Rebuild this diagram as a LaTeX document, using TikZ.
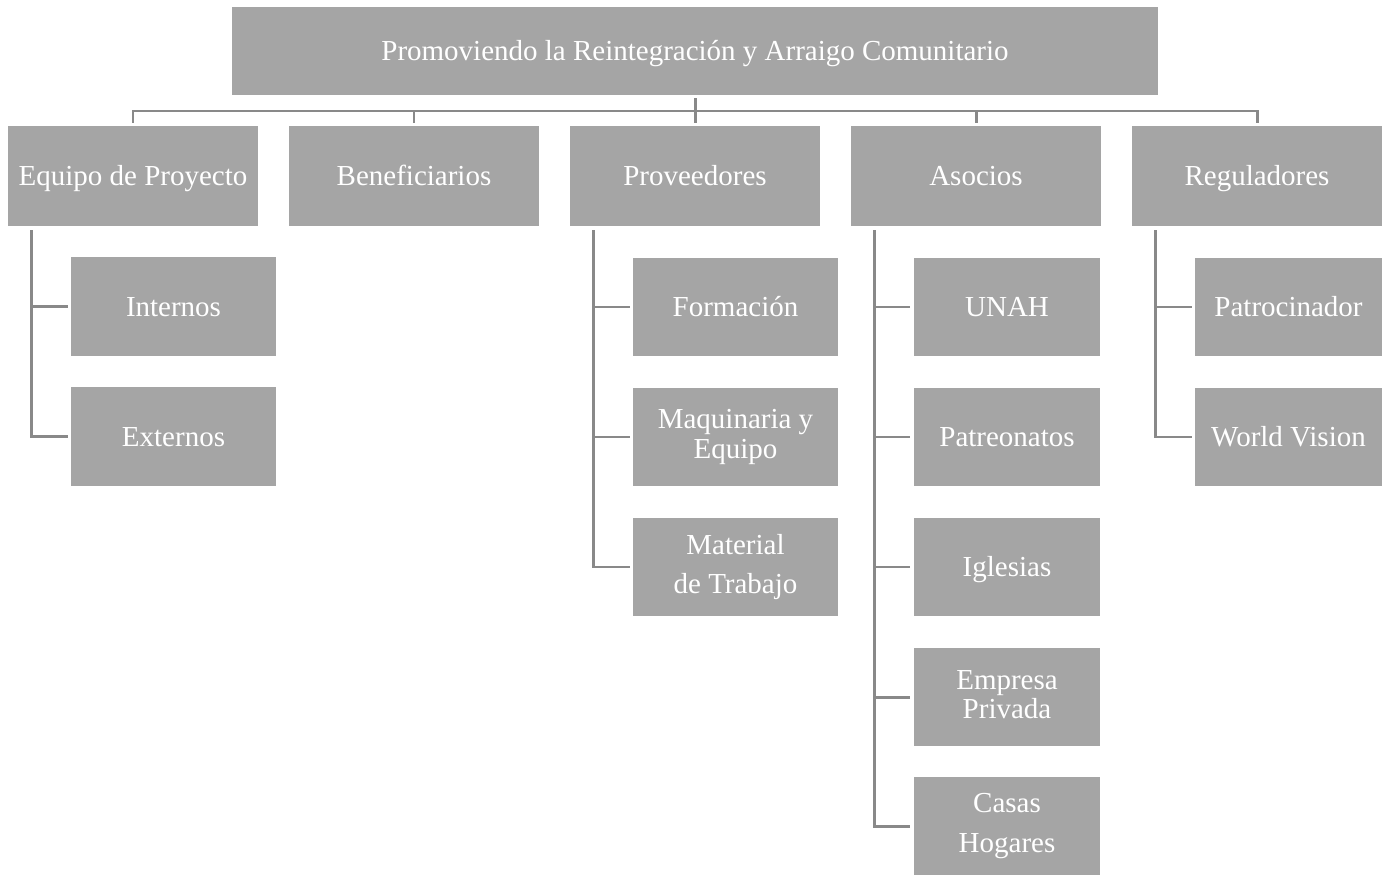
\documentclass[tikz,border=0pt]{standalone}
\usepackage{fontspec}
\setmainfont{Liberation Serif}
\usepackage{tikz}
\definecolor{boxgray}{RGB}{165, 165, 165}
\definecolor{linegray}{RGB}{137, 137, 137}
\newcommand{\cardstrut}{\rule[-2.83pt]{0pt}{17pt}}
\tikzset{
    card/.style={fill=boxgray, text=white, align=center, inner sep=0pt,
                 font=\fontsize{16.5pt}{17pt}\selectfont,
                 execute at begin node=\cardstrut, execute at end node=\cardstrut},
    head/.style={card, minimum width=18.52cm, minimum height=1.76cm},
    group/.style={card, minimum width=5.00cm,  minimum height=2.00cm},
    item/.style={card,  minimum width=4.10cm,  minimum height=1.98cm},
    narrow/.style={card, minimum width=3.74cm, minimum height=1.98cm},
    link/.style={draw=linegray, line width=1.7pt}
}
\begin{document}
\begin{tikzpicture}[x=0.02cm, y=-0.02cm]
            \useasboundingbox (0,0) rectangle (1389,875);
            % top and first level
            \node[head]   (top)   at ( 695.0,  51.0) {Promoviendo la Reintegración y Arraigo Comunitario};
            \node[group]  (equipo) at ( 133.0, 176.0) {Equipo de Proyecto};
            \node[group]  (benef)  at ( 414.0, 176.0) {Beneficiarios};
            \node[group]  (prov)   at ( 695.0, 176.0) {Proveedores};
            \node[group]  (asoc)   at ( 976.0, 176.0) {Asocios};
            \node[group]  (regul)  at (1257.0, 176.0) {Reguladores};
            % second level
            \node[item]   (intern) at ( 173.5, 306.5) {Internos};
            \node[item]   (extern) at ( 173.5, 436.5) {Externos};
            \node[item]   (form)   at ( 735.5, 307.0) {Formación};
            \node[item]   (maqu)   at ( 735.5, 437.0) {Maquinaria y\\Equipo};
            \node[item]   (mater)  at ( 735.5, 567.0) {Material\\[5.5pt]de Trabajo};
            \node[narrow] (unah)   at (1007.0, 307.0) {UNAH};
            \node[narrow] (patre)  at (1007.0, 437.0) {Patreonatos};
            \node[narrow] (igle)   at (1007.0, 567.0) {Iglesias};
            \node[narrow] (empre)  at (1007.0, 697.0) {Empresa\\Privada};
            \node[narrow] (casas)  at (1007.0, 826.0) {Casas\\[5.5pt]Hogares};
            \node[narrow] (patro)  at (1288.5, 307.0) {Patrocinador};
            \node[narrow] (world)  at (1288.5, 437.0) {World Vision};
            % connectors
            \coordinate (bus) at (695.0, 111.0);
            \foreach \n in {equipo, benef, prov, asoc, regul}
                \draw[link] ([yshift=-0.06cm]top.south) -- (bus) -| ([yshift=0.06cm]\n.north);
            \foreach \p/\c in {equipo/intern, equipo/extern, prov/form, prov/maqu, prov/mater,
                               asoc/unah, asoc/patre, asoc/igle, asoc/empre, asoc/casas,
                               regul/patro, regul/world}
                \draw[link] ([xshift=0.48cm, yshift=-0.08cm]\p.south west) |- ([xshift=-0.06cm]\c.west);
\end{tikzpicture}
\end{document}
